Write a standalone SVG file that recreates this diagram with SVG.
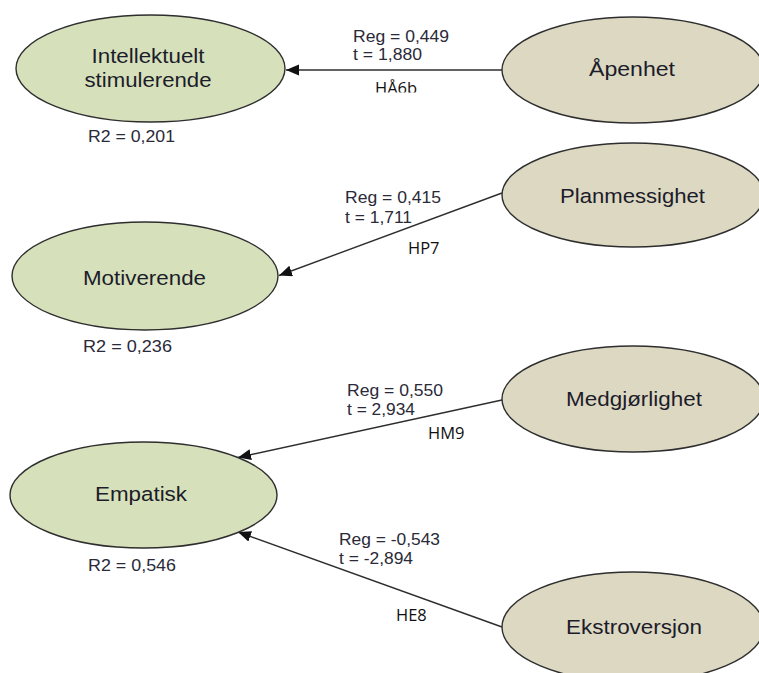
<svg xmlns="http://www.w3.org/2000/svg" width="759" height="673" viewBox="0 0 759 673">
<style>
.ell{stroke:#2e2e2e;stroke-width:1.4}
.dep{fill:#d6e1bb}
.ind{fill:#dcd8c2}
.nt{font-family:"Liberation Sans",Arial,sans-serif;font-size:20.5px;fill:#1c1c2a;text-anchor:middle}
.lb{font-family:"Liberation Sans",Arial,sans-serif;font-size:17px;fill:#2a2a38}
.hy{font-family:"Open Sans",sans-serif;font-size:16.5px;fill:#111}
.con{stroke:#2e2e2e;stroke-width:1.4;fill:none}
</style>
<defs>
<marker id="ah" markerUnits="userSpaceOnUse" markerWidth="14" markerHeight="12" refX="13" refY="5.5" orient="auto">
<path d="M0,0 L13,5.5 L0,11 z" fill="#111"/>
</marker>
<clipPath id="clipH"><rect x="360" y="70" width="80" height="22.5"/></clipPath>
</defs>
<rect width="759" height="673" fill="#fff"/>
<g id="connectors">
<line class="con" x1="502" y1="70" x2="286" y2="70" marker-end="url(#ah)"/>
<line class="con" x1="502" y1="193" x2="279" y2="275.5" marker-end="url(#ah)"/>
<line class="con" x1="502" y1="400" x2="238" y2="457.5" marker-end="url(#ah)"/>
<line class="con" x1="502" y1="627" x2="238" y2="532" marker-end="url(#ah)"/>
</g>
<g id="intellektuelt">
<ellipse class="ell dep" cx="150.5" cy="68.5" rx="134.5" ry="53.5"/>
<text class="nt" x="148" y="63" textLength="113" lengthAdjust="spacingAndGlyphs">Intellektuelt</text>
<text class="nt" x="148" y="87" textLength="127" lengthAdjust="spacingAndGlyphs">stimulerende</text>
<text class="lb" x="88" y="141.5" textLength="87" lengthAdjust="spacingAndGlyphs">R2 = 0,201</text>
</g>
<g id="motiverende">
<ellipse class="ell dep" cx="145" cy="276" rx="133" ry="54"/>
<text class="nt" x="144.5" y="284.5" textLength="123" lengthAdjust="spacingAndGlyphs">Motiverende</text>
<text class="lb" x="83" y="351.5" textLength="89" lengthAdjust="spacingAndGlyphs">R2 = 0,236</text>
</g>
<g id="empatisk">
<ellipse class="ell dep" cx="143.5" cy="495" rx="133.5" ry="53"/>
<text class="nt" x="141" y="501" textLength="92" lengthAdjust="spacingAndGlyphs">Empatisk</text>
<text class="lb" x="88" y="570.5" textLength="88" lengthAdjust="spacingAndGlyphs">R2 = 0,546</text>
</g>
<g id="apenhet">
<ellipse class="ell ind" cx="633" cy="70" rx="131" ry="53"/>
<text class="nt" x="632" y="76" textLength="86" lengthAdjust="spacingAndGlyphs">Åpenhet</text>
</g>
<g id="planmessighet">
<ellipse class="ell ind" cx="633" cy="195" rx="131" ry="52"/>
<text class="nt" x="632.5" y="203" textLength="145" lengthAdjust="spacingAndGlyphs">Planmessighet</text>
</g>
<g id="medgjorlighet">
<ellipse class="ell ind" cx="633" cy="399" rx="131" ry="53"/>
<text class="nt" x="634" y="406" textLength="136" lengthAdjust="spacingAndGlyphs">Medgjørlighet</text>
</g>
<g id="ekstroversjon">
<ellipse class="ell ind" cx="633" cy="627" rx="131" ry="55"/>
<text class="nt" x="634" y="634" textLength="136" lengthAdjust="spacingAndGlyphs">Ekstroversjon</text>
</g>
<g id="edge-labels">
<text class="lb" x="353" y="41.5" textLength="96" lengthAdjust="spacingAndGlyphs">Reg = 0,449</text>
<text class="lb" x="353" y="60" textLength="69" lengthAdjust="spacingAndGlyphs">t = 1,880</text>
<text class="hy" x="375" y="94" clip-path="url(#clipH)">HÅ6b</text>
<text class="lb" x="345" y="203" textLength="96" lengthAdjust="spacingAndGlyphs">Reg = 0,415</text>
<text class="lb" x="345" y="223" textLength="67" lengthAdjust="spacingAndGlyphs">t = 1,711</text>
<text class="hy" x="408" y="254">HP7</text>
<text class="lb" x="347" y="395.5" textLength="96" lengthAdjust="spacingAndGlyphs">Reg = 0,550</text>
<text class="lb" x="347" y="415" textLength="68" lengthAdjust="spacingAndGlyphs">t = 2,934</text>
<text class="hy" x="428" y="439">HM9</text>
<text class="lb" x="339" y="545" textLength="101" lengthAdjust="spacingAndGlyphs">Reg = -0,543</text>
<text class="lb" x="339" y="564" textLength="74" lengthAdjust="spacingAndGlyphs">t = -2,894</text>
<text class="hy" x="396" y="620.5">HE8</text>
</g>
</svg>
